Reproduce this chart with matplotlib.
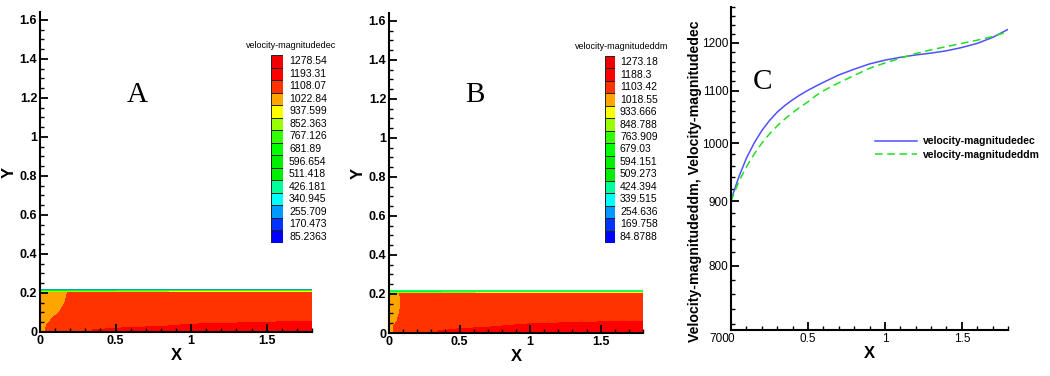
import matplotlib.pyplot as plt
import numpy as np
from matplotlib import transforms
from matplotlib.ticker import MultipleLocator, FixedLocator, NullFormatter

plt.rcParams['font.family'] = ['Liberation Sans Narrow', 'Liberation Sans', 'DejaVu Sans']

# contour grid (channel cross-section)
xs = [0.0, 0.05, 0.1, 0.2, 0.3, 0.5, 1.0, 1.5, 1.8]
ys = [0.0, 0.004, 0.01, 0.03, 0.06, 0.1, 0.15, 0.2, 0.207, 0.213, 0.218, 0.22]

# velocity magnitude, ec solution (rows = ys, cols = xs)
vel_ec = [
    [950, 980, 990, 1000, 1010, 1050, 1200, 1210, 1215],
    [1000, 1100, 1120, 1150, 1170, 1190, 1215, 1220, 1225],
    [1060, 1130, 1150, 1170, 1190, 1205, 1215, 1220, 1225],
    [1070, 1115, 1130, 1150, 1165, 1180, 1200, 1210, 1215],
    [1060, 1100, 1120, 1140, 1155, 1170, 1180, 1185, 1190],
    [1050, 1075, 1100, 1130, 1150, 1160, 1170, 1175, 1175],
    [1050, 1065, 1085, 1120, 1150, 1160, 1165, 1170, 1170],
    [1050, 1060, 1080, 1115, 1150, 1160, 1165, 1170, 1170],
    [800, 800, 810, 820, 830, 840, 850, 860, 860],
    [700, 700, 700, 700, 700, 700, 700, 700, 700],
    [300, 300, 300, 300, 300, 300, 300, 300, 300],
    [100, 100, 100, 100, 100, 100, 100, 100, 100],
]

# velocity magnitude, ddm solution
vel_ddm = [
    [950, 980, 990, 1000, 1010, 1050, 1195, 1205, 1210],
    [1000, 1100, 1120, 1150, 1170, 1185, 1212, 1218, 1222],
    [1060, 1130, 1150, 1170, 1185, 1200, 1212, 1218, 1222],
    [1080, 1120, 1135, 1150, 1165, 1180, 1200, 1208, 1213],
    [1060, 1100, 1125, 1145, 1155, 1170, 1180, 1186, 1188],
    [1055, 1090, 1120, 1140, 1150, 1160, 1170, 1175, 1175],
    [1055, 1085, 1112, 1140, 1150, 1160, 1165, 1170, 1170],
    [1060, 1090, 1115, 1140, 1150, 1160, 1165, 1170, 1170],
    [800, 800, 810, 820, 830, 840, 850, 860, 860],
    [700, 700, 700, 700, 700, 700, 700, 700, 700],
    [450, 450, 450, 450, 450, 450, 450, 450, 450],
    [380, 380, 380, 380, 380, 380, 380, 380, 380],
]

levels_ec = [1278.54, 1193.31, 1108.07, 1022.84, 937.599, 852.363, 767.126, 681.89,
             596.654, 511.418, 426.181, 340.945, 255.709, 170.473, 85.2363]
labels_ec = ['1278.54', '1193.31', '1108.07', '1022.84', '937.599', '852.363', '767.126',
             '681.89', '596.654', '511.418', '426.181', '340.945', '255.709', '170.473', '85.2363']
levels_ddm = [1273.18, 1188.3, 1103.42, 1018.55, 933.666, 848.788, 763.909, 679.03,
              594.151, 509.273, 424.394, 339.515, 254.636, 169.758, 84.8788]
labels_ddm = ['1273.18', '1188.3', '1103.42', '1018.55', '933.666', '848.788', '763.909',
              '679.03', '594.151', '509.273', '424.394', '339.515', '254.636', '169.758', '84.8788']

# legend colours, top to bottom
band_colors = ['#F00000', '#FF0000', '#FF3300', '#FFA500', '#FFFF00', '#99FF00', '#33FF00',
               '#00FF00', '#00F000', '#00EE00', '#00FF99', '#00FFFF', '#0099FF', '#0033FF', '#0000FF']

# line plot C
x_line = [0, 0.05, 0.1, 0.15, 0.2, 0.25, 0.3, 0.35, 0.4, 0.45, 0.5, 0.55, 0.6,
          0.7, 0.8, 0.9, 1.0, 1.1, 1.2, 1.3, 1.4, 1.5, 1.6, 1.7, 1.8]
v_ec = [902, 940, 973, 1000, 1023, 1042, 1058, 1071, 1082, 1092, 1101, 1109, 1117,
        1132, 1144, 1155, 1163, 1169, 1174, 1178, 1183, 1190, 1199, 1212, 1230]
v_ddm = [900, 932, 958, 980, 1000, 1017, 1032, 1045, 1057, 1068, 1078, 1090, 1100,
         1116, 1131, 1146, 1157, 1167, 1177, 1185, 1192, 1199, 1206, 1214, 1225]

W, H = 1050, 376
fig = plt.figure(figsize=(10.5, 3.76), dpi=100)


def box(l, t, r, b):
    return [l / W, 1 - b / H, (r - l) / W, (b - t) / H]


def style_axes(ax):
    for s in ['top', 'right']:
        ax.spines[s].set_visible(False)
    for s in ['left', 'bottom']:
        ax.spines[s].set_linewidth(1.5)
    ax.tick_params(which='major', direction='in', length=6, width=1.3, labelsize=9, pad=2)
    ax.tick_params(which='minor', direction='in', length=3, width=1.0)


def contour_panel(rect, vals, levels, labels, letter, letter_xy, cbar_rect, title):
    ax = fig.add_axes(box(*rect))
    asc = sorted(levels)
    bounds = [-1000] + asc + [5000]
    cols = [band_colors[-1]] + band_colors[::-1]
    ax.contourf(xs, ys, np.array(vals, dtype=float), levels=bounds, colors=cols)
    ax.set_xlim(0, 1.8)
    ax.set_ylim(0, 1.64)
    style_axes(ax)
    ax.xaxis.set_major_locator(MultipleLocator(0.5))
    ax.xaxis.set_minor_locator(MultipleLocator(0.1))
    ax.yaxis.set_major_locator(FixedLocator([0, 0.2, 0.4, 0.6, 0.8, 1.0, 1.2, 1.4, 1.6]))
    ax.yaxis.set_minor_locator(MultipleLocator(0.05))
    ax.xaxis.set_major_formatter(lambda v, p: '%g' % v)
    ax.yaxis.set_major_formatter(lambda v, p: '%g' % v)
    for t in ax.get_xticklabels() + ax.get_yticklabels():
        t.set_fontweight('bold')
    ax.set_xlabel('X', fontsize=12, fontweight='bold', labelpad=1)
    ax.set_ylabel('Y', fontsize=12, fontweight='bold', labelpad=2)
    fig.text(letter_xy[0] / W, 1 - letter_xy[1] / H, letter, family='Liberation Serif',
             fontsize=21, ha='center', va='center')

    cax = fig.add_axes(box(*cbar_rect))
    n = len(levels)
    cax.barh(range(n), 1, height=1, color=band_colors, edgecolor='#222222', linewidth=0.7)
    cax.set_ylim(n - 0.5, -0.5)
    cax.set_xlim(0, 1)
    cax.axis('off')
    for i, lab in enumerate(labels):
        cax.text(1.5, i, lab, fontsize=7.5, va='center', ha='left')
    cax.text(1.7, -0.9, title, fontsize=6.5, ha='center', va='bottom')
    return ax


contour_panel((40, 12, 312, 332), vel_ec, levels_ec, labels_ec, 'A', (137, 95),
              (271, 55, 283, 243), 'velocity-magnitudedec')
contour_panel((389, 13, 643, 333), vel_ddm, levels_ddm, labels_ddm, 'B', (475, 95),
              (605, 56, 615, 243), 'velocity-magnitudeddm')

# panel C
axc = fig.add_axes(box(731, 7, 1008, 330))
axc.plot(x_line, v_ec, color='#5050FF', lw=1.1, label='velocity-magnitudedec')
axc.plot(x_line, v_ddm, color='#22DD22', lw=1.1, ls=(0, (5, 3)), label='velocity-magnitudeddm')
axc.set_yscale('log')
axc.set_xlim(0, 1.8)
axc.set_ylim(712, 1281)
style_axes(axc)
axc.yaxis.set_major_locator(FixedLocator([800, 900, 1000, 1100, 1200]))
axc.yaxis.set_major_formatter(lambda v, p: '%d' % v)
axc.yaxis.set_minor_locator(FixedLocator(list(range(720, 1281, 20))))
axc.yaxis.set_minor_formatter(NullFormatter())
axc.xaxis.set_major_locator(FixedLocator([0, 0.5, 1, 1.5]))
axc.xaxis.set_minor_locator(MultipleLocator(0.1))
axc.xaxis.set_major_formatter(lambda v, p: '%g' % v)
axc.tick_params(labelsize=8.5)
axc.text(-0.005, 700, '700', transform=transforms.blended_transform_factory(axc.transAxes, axc.transData),
         ha='right', va='center', fontsize=8.5, clip_on=False)
axc.set_xlabel('X', fontsize=12, fontweight='bold', labelpad=1)
axc.set_ylabel('Velocity-magnitudeddm, Velocity-magnitudedec', fontsize=10.2, fontweight='bold')
axc.yaxis.set_label_coords(-0.105, 0.46)
leg = axc.legend(loc='upper left', bbox_to_anchor=(0.52, 0.6), frameon=False, handlelength=4.0,
                 prop={'size': 7.5, 'weight': 'bold'}, labelspacing=0.35, handletextpad=0.6,
                 borderpad=0, borderaxespad=0)
fig.text(763 / W, 1 - 82 / H, 'C', family='Liberation Serif', fontsize=21, ha='center', va='center')

fig.savefig('out.png', dpi=100)
